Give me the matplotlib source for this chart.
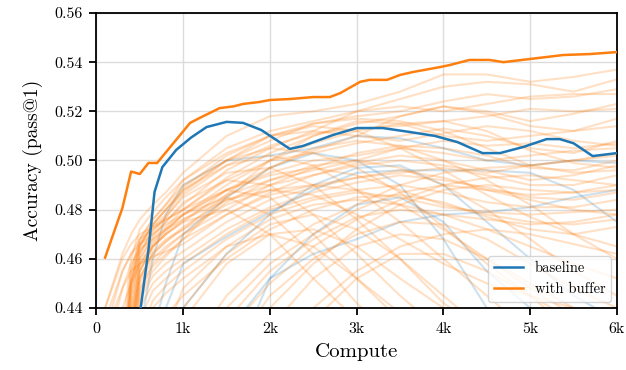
import matplotlib
matplotlib.use("Agg")
import matplotlib.pyplot as plt

plt.rcParams['font.family'] = ['cmr10', 'DejaVu Serif']
plt.rcParams['mathtext.fontset'] = 'cm'
plt.rcParams['axes.unicode_minus'] = False

# ---- data ----
# bold "with buffer" curve (compute in thousands)
buffer_x = [0.1, 0.3, 0.4, 0.5, 0.6, 0.7, 1.08, 1.19, 1.42, 1.58, 1.69, 1.88, 2.0, 2.23, 2.5, 2.69,
            2.81, 3.04, 3.15, 3.35, 3.5, 3.65, 3.96, 4.07, 4.3, 4.53, 4.69, 5.0, 5.38, 5.69, 6.0]
buffer_y = [0.4605, 0.4807, 0.4955, 0.4945, 0.499, 0.499, 0.5153, 0.5173, 0.5213, 0.522, 0.523,
            0.5238, 0.5246, 0.525, 0.5258, 0.5258, 0.5274, 0.532, 0.5328, 0.5328, 0.5348, 0.536,
            0.538, 0.5388, 0.5409, 0.5409, 0.540, 0.5413, 0.5429, 0.5433, 0.5441]

# bold "baseline" curve
baseline_x = [0.51, 0.6, 0.67, 0.76, 0.92, 1.09, 1.27, 1.5, 1.69, 1.9, 2.23, 2.38, 2.73, 3.0, 3.3,
              3.61, 3.9, 4.16, 4.45, 4.65, 4.92, 5.19, 5.34, 5.5, 5.72, 6.0]
baseline_y = [0.44, 0.4636, 0.4872, 0.4973, 0.5043, 0.5093, 0.5136, 0.5157, 0.5153, 0.5124, 0.5047,
              0.5059, 0.5104, 0.5132, 0.5132, 0.5116, 0.5100, 0.5075, 0.503, 0.503, 0.5055, 0.5087,
              0.5087, 0.507, 0.5018, 0.503]

# individual faint runs, sampled at run_x
run_x = [0.1, 0.3, 0.4, 0.5, 0.65, 0.8, 1, 1.5, 2, 2.5, 3, 3.5, 4, 4.5, 5, 5.5, 6]

buffer_runs = [
    [0.44, 0.462, 0.470, 0.476, 0.482, 0.487, 0.495, 0.510, 0.518, 0.520, 0.523, 0.528, 0.535, 0.535, 0.532, 0.534, 0.537],
    [0.38, 0.42, 0.455, 0.468, 0.476, 0.482, 0.492, 0.505, 0.512, 0.516, 0.520, 0.525, 0.530, 0.532, 0.531, 0.528, 0.533],
    [0.37, 0.41, 0.45, 0.465, 0.473, 0.478, 0.488, 0.500, 0.508, 0.515, 0.518, 0.520, 0.524, 0.527, 0.525, 0.526, 0.529],
    [0.36, 0.40, 0.445, 0.462, 0.470, 0.475, 0.482, 0.496, 0.505, 0.512, 0.520, 0.522, 0.520, 0.523, 0.526, 0.527, 0.527],
    [0.36, 0.40, 0.44, 0.46, 0.468, 0.473, 0.480, 0.493, 0.503, 0.510, 0.515, 0.518, 0.522, 0.520, 0.516, 0.519, 0.523],
    [0.35, 0.39, 0.435, 0.458, 0.467, 0.472, 0.478, 0.490, 0.500, 0.507, 0.512, 0.515, 0.516, 0.518, 0.521, 0.520, 0.521],
    [0.35, 0.39, 0.43, 0.455, 0.465, 0.470, 0.475, 0.488, 0.497, 0.504, 0.510, 0.518, 0.522, 0.519, 0.514, 0.512, 0.514],
    [0.34, 0.38, 0.425, 0.452, 0.463, 0.468, 0.472, 0.486, 0.500, 0.510, 0.516, 0.515, 0.510, 0.508, 0.510, 0.512, 0.517],
    [0.43, 0.455, 0.462, 0.468, 0.472, 0.476, 0.480, 0.492, 0.500, 0.503, 0.507, 0.510, 0.513, 0.510, 0.505, 0.503, 0.508],
    [0.35, 0.39, 0.435, 0.457, 0.466, 0.472, 0.478, 0.488, 0.495, 0.500, 0.502, 0.505, 0.508, 0.506, 0.507, 0.505, 0.507],
    [0.34, 0.38, 0.43, 0.455, 0.465, 0.470, 0.476, 0.486, 0.492, 0.496, 0.500, 0.505, 0.503, 0.500, 0.502, 0.504, 0.505],
    [0.34, 0.38, 0.43, 0.452, 0.462, 0.467, 0.473, 0.484, 0.490, 0.494, 0.498, 0.500, 0.498, 0.495, 0.498, 0.500, 0.502],
    [0.33, 0.37, 0.425, 0.45, 0.460, 0.465, 0.470, 0.480, 0.490, 0.497, 0.503, 0.506, 0.505, 0.502, 0.497, 0.496, 0.500],
    [0.33, 0.37, 0.42, 0.447, 0.457, 0.462, 0.468, 0.478, 0.487, 0.494, 0.499, 0.502, 0.500, 0.496, 0.492, 0.494, 0.498],
    [0.42, 0.448, 0.455, 0.458, 0.461, 0.463, 0.466, 0.478, 0.486, 0.490, 0.493, 0.495, 0.497, 0.494, 0.490, 0.490, 0.494],
    [0.32, 0.36, 0.415, 0.443, 0.453, 0.458, 0.463, 0.475, 0.484, 0.489, 0.493, 0.496, 0.493, 0.488, 0.486, 0.487, 0.490],
    [0.31, 0.35, 0.41, 0.44, 0.450, 0.455, 0.460, 0.472, 0.481, 0.487, 0.491, 0.494, 0.492, 0.489, 0.485, 0.484, 0.487],
    [0.30, 0.35, 0.40, 0.435, 0.447, 0.452, 0.458, 0.470, 0.480, 0.485, 0.488, 0.490, 0.487, 0.483, 0.481, 0.481, 0.484],
    [0.30, 0.34, 0.395, 0.43, 0.443, 0.449, 0.455, 0.468, 0.478, 0.484, 0.487, 0.485, 0.481, 0.479, 0.478, 0.479, 0.480],
    [0.30, 0.34, 0.39, 0.425, 0.44, 0.446, 0.452, 0.465, 0.476, 0.482, 0.484, 0.482, 0.478, 0.476, 0.474, 0.475, 0.478],
    [0.38, 0.40, 0.41, 0.42, 0.43, 0.437, 0.445, 0.460, 0.472, 0.480, 0.485, 0.486, 0.483, 0.477, 0.472, 0.470, 0.473],
    [0.37, 0.42, 0.455, 0.468, 0.476, 0.482, 0.490, 0.500, 0.505, 0.503, 0.497, 0.487, 0.473, 0.458, 0.445, 0.43, 0.42],
    [0.36, 0.41, 0.45, 0.465, 0.474, 0.480, 0.488, 0.498, 0.502, 0.498, 0.488, 0.475, 0.460, 0.445, 0.43, 0.42, 0.41],
    [0.35, 0.40, 0.445, 0.462, 0.472, 0.477, 0.485, 0.495, 0.497, 0.490, 0.476, 0.460, 0.442, 0.43, 0.42, 0.41, 0.40],
    [0.34, 0.39, 0.44, 0.46, 0.469, 0.475, 0.483, 0.492, 0.490, 0.478, 0.462, 0.445, 0.43, 0.42, 0.41, 0.40, 0.40],
    [0.44, 0.46, 0.466, 0.47, 0.473, 0.476, 0.480, 0.488, 0.485, 0.470, 0.452, 0.435, 0.42, 0.41, 0.40, 0.40, 0.40],
    [0.33, 0.38, 0.435, 0.455, 0.465, 0.471, 0.478, 0.485, 0.478, 0.462, 0.442, 0.425, 0.41, 0.40, 0.40, 0.40, 0.40],
    [0.40, 0.44, 0.45, 0.458, 0.465, 0.470, 0.475, 0.480, 0.470, 0.452, 0.435, 0.42, 0.41, 0.40, 0.40, 0.40, 0.40],
    [0.33, 0.38, 0.43, 0.452, 0.462, 0.467, 0.472, 0.482, 0.488, 0.490, 0.488, 0.482, 0.472, 0.460, 0.448, 0.437, 0.43],
    [0.32, 0.37, 0.425, 0.448, 0.458, 0.464, 0.470, 0.483, 0.492, 0.498, 0.500, 0.497, 0.490, 0.480, 0.468, 0.455, 0.445],
    [0.31, 0.36, 0.42, 0.445, 0.455, 0.461, 0.468, 0.485, 0.497, 0.505, 0.508, 0.506, 0.500, 0.492, 0.482, 0.470, 0.460],
    [0.36, 0.41, 0.45, 0.466, 0.474, 0.480, 0.487, 0.500, 0.510, 0.514, 0.512, 0.505, 0.496, 0.486, 0.477, 0.470, 0.465],
    [0.30, 0.32, 0.34, 0.36, 0.39, 0.405, 0.42, 0.445, 0.462, 0.474, 0.482, 0.490, 0.495, 0.497, 0.498, 0.500, 0.503],
    [0.30, 0.32, 0.33, 0.35, 0.37, 0.39, 0.415, 0.44, 0.458, 0.470, 0.480, 0.487, 0.490, 0.488, 0.484, 0.480, 0.478],
    [0.30, 0.31, 0.32, 0.34, 0.36, 0.38, 0.41, 0.435, 0.455, 0.468, 0.477, 0.480, 0.478, 0.472, 0.465, 0.458, 0.452],
    [0.30, 0.31, 0.32, 0.33, 0.35, 0.37, 0.40, 0.43, 0.45, 0.465, 0.476, 0.484, 0.490, 0.493, 0.494, 0.492, 0.490],
    [0.30, 0.30, 0.31, 0.32, 0.34, 0.36, 0.39, 0.42, 0.445, 0.460, 0.470, 0.475, 0.474, 0.468, 0.458, 0.448, 0.44],
    [0.30, 0.30, 0.31, 0.32, 0.33, 0.35, 0.38, 0.41, 0.44, 0.458, 0.472, 0.482, 0.488, 0.490, 0.488, 0.487, 0.488],
    [0.30, 0.30, 0.30, 0.31, 0.32, 0.34, 0.37, 0.40, 0.432, 0.452, 0.465, 0.470, 0.468, 0.460, 0.450, 0.44, 0.43],
    [0.30, 0.30, 0.30, 0.30, 0.31, 0.33, 0.36, 0.39, 0.42, 0.44, 0.455, 0.465, 0.470, 0.472, 0.470, 0.466, 0.462],
    [0.30, 0.30, 0.30, 0.30, 0.31, 0.32, 0.35, 0.38, 0.41, 0.435, 0.452, 0.462, 0.462, 0.455, 0.445, 0.435, 0.43],
    [0.30, 0.33, 0.35, 0.37, 0.39, 0.41, 0.44, 0.462, 0.474, 0.478, 0.472, 0.460, 0.445, 0.43, 0.42, 0.41, 0.40],
    [0.30, 0.32, 0.34, 0.36, 0.38, 0.40, 0.435, 0.458, 0.470, 0.472, 0.465, 0.452, 0.44, 0.43, 0.42, 0.41, 0.40],
    [0.30, 0.34, 0.37, 0.39, 0.41, 0.43, 0.448, 0.465, 0.470, 0.465, 0.452, 0.438, 0.425, 0.41, 0.40, 0.40, 0.40],
    [0.37, 0.42, 0.452, 0.466, 0.474, 0.480, 0.489, 0.502, 0.510, 0.515, 0.517, 0.516, 0.512, 0.505, 0.498, 0.495, 0.496],
    [0.36, 0.41, 0.448, 0.463, 0.471, 0.477, 0.486, 0.498, 0.506, 0.511, 0.513, 0.514, 0.516, 0.512, 0.504, 0.499, 0.497],
    [0.38, 0.43, 0.46, 0.472, 0.479, 0.485, 0.492, 0.503, 0.510, 0.512, 0.510, 0.508, 0.511, 0.514, 0.512, 0.508, 0.506],
    [0.435, 0.455, 0.462, 0.466, 0.47, 0.474, 0.478, 0.488, 0.494, 0.497, 0.494, 0.488, 0.482, 0.478, 0.475, 0.474, 0.476],
    [0.43, 0.448, 0.458, 0.464, 0.468, 0.472, 0.476, 0.484, 0.488, 0.486, 0.478, 0.468, 0.458, 0.45, 0.445, 0.44, 0.435],
]

baseline_runs = [
    [0.30, 0.35, 0.37, 0.40, 0.43, 0.45, 0.470, 0.485, 0.497, 0.503, 0.500, 0.490, 0.468, 0.44, 0.42, 0.40, 0.40],
    [0.30, 0.33, 0.35, 0.38, 0.41, 0.44, 0.458, 0.469, 0.479, 0.488, 0.495, 0.496, 0.496, 0.496, 0.495, 0.488, 0.475],
    [0.30, 0.30, 0.31, 0.32, 0.33, 0.35, 0.38, 0.41, 0.452, 0.462, 0.468, 0.475, 0.478, 0.479, 0.481, 0.485, 0.488],
    [0.30, 0.36, 0.39, 0.43, 0.46, 0.478, 0.490, 0.500, 0.502, 0.505, 0.510, 0.509, 0.505, 0.500, 0.498, 0.500, 0.499],
    [0.30, 0.31, 0.32, 0.34, 0.37, 0.40, 0.44, 0.462, 0.478, 0.490, 0.497, 0.498, 0.490, 0.475, 0.460, 0.445, 0.435],
    [0.30, 0.31, 0.32, 0.33, 0.35, 0.37, 0.40, 0.43, 0.452, 0.470, 0.482, 0.485, 0.475, 0.455, 0.44, 0.43, 0.42],
]

x_ticks = [0, 1, 2, 3, 4, 5, 6]
x_ticklabels = ["0", "1k", "2k", "3k", "4k", "5k", "6k"]
y_ticks = [0.44, 0.46, 0.48, 0.50, 0.52, 0.54, 0.56]
y_ticklabels = ["0.44", "0.46", "0.48", "0.50", "0.52", "0.54", "0.56"]

BLUE = "#1f77b4"
ORANGE = "#ff7f0e"

fig = plt.figure(figsize=(6.26, 3.70), dpi=100)
ax = fig.add_axes([0.154, 0.1676, 0.8316, 0.7973])

for r in baseline_runs:
    ax.plot(run_x, r, color=BLUE, alpha=0.22, lw=1.5, zorder=2, solid_joinstyle="round")
for r in buffer_runs:
    ax.plot(run_x, r, color=ORANGE, alpha=0.24, lw=1.5, zorder=2, solid_joinstyle="round")

ax.plot(baseline_x, baseline_y, color=BLUE, lw=1.8, zorder=4, label="baseline")
ax.plot(buffer_x, buffer_y, color=ORANGE, lw=1.8, zorder=4, label="with buffer")

ax.set_xlim(0, 6)
ax.set_ylim(0.44, 0.56)
ax.set_xticks(x_ticks)
ax.set_xticklabels(x_ticklabels)
ax.set_yticks(y_ticks)
ax.set_yticklabels(y_ticklabels)
ax.grid(True, color="#dcdcdc", lw=1.0, zorder=0)
ax.set_axisbelow(True)
for s in ax.spines.values():
    s.set_linewidth(1.3)
ax.tick_params(direction="out", length=5, width=1.3, labelsize=11.5, pad=5)
ax.set_xlabel("Compute", fontsize=15, labelpad=5)
ax.set_ylabel("Accuracy (pass@1)", fontsize=14, labelpad=8)

leg = ax.legend(loc="lower right", fontsize=10.5, frameon=True, fancybox=True,
                framealpha=0.8, edgecolor="#cccccc", handlelength=2.0,
                borderaxespad=0.4)
leg.get_frame().set_linewidth(1.0)

fig.savefig("out.png", dpi=100)
